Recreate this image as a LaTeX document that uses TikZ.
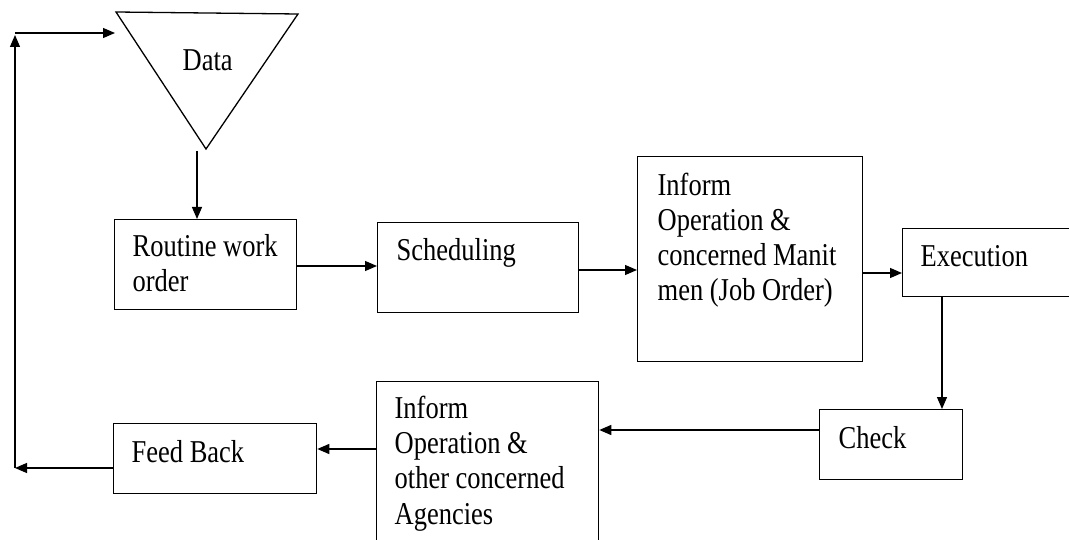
\documentclass[tikz,border=0pt]{standalone}
\usepackage{fontspec}
\setmainfont{Liberation Serif}[FakeStretch=0.833]
\usetikzlibrary{arrows.meta,calc}
\begin{document}
\begin{tikzpicture}[x=1pt,y=-1pt,
  line width=1.3pt,
  box/.style={draw, rectangle, inner sep=0pt, anchor=north west},
  txt/.style={anchor=base west, inner sep=0pt, align=left, font=\fontsize{31.8}{35.3}\selectfont},
  arr/.style={-{Triangle[length=12pt,width=10pt]}}]
\useasboundingbox (0,0) rectangle (1069,540);
\clip (0,0) rectangle (1069,540);
% Data triangle
\draw (116,12) coordinate (dtl) -- (298,14) coordinate (dtr) -- (206,149) coordinate (dap) -- cycle;
\node[txt] (datat) at (182,71) {Data};
\coordinate (dout) at (197,151);
% boxes (text nodes anchored at the baseline of their last line)
\node[box, minimum width=182pt, minimum height=90pt] (rw) at (114,219) {};
\node[txt] (rwt) at (132,292) {Routine work\\order};
\node[box, minimum width=201pt, minimum height=90pt] (sch) at (377,222) {};
\node[txt] (scht) at (396,261) {Scheduling};
\node[box, minimum width=225pt, minimum height=205pt] (inf1) at (637,156) {};
\node[txt] (inf1t) at (657,301) {Inform\\Operation \&\\concerned Manit\\men (Job Order)};
\node[box, minimum width=190pt, minimum height=68pt] (exe) at (902,228) {};
\node[txt] (exet) at (920,267) {Execution};
\node[box, minimum width=143pt, minimum height=70pt] (chk) at (819,409) {};
\node[txt] (chkt) at (838,448) {Check};
\node[box, minimum width=222pt, minimum height=180pt] (inf2) at (376,381) {};
\node[txt] (inf2t) at (394,524) {Inform\\Operation \&\\other concerned\\Agencies};
\node[box, minimum width=203pt, minimum height=70pt] (fb) at (113,423) {};
\node[txt] (fbt) at (131,462) {Feed Back};
% connectors
\draw[arr] (dout) -- (dout |- rw.north);
\draw[arr] (rw.east |- 0,266) -- (sch.west |- 0,266);
\draw[arr] (sch.east |- 0,270) -- (inf1.west |- 0,270);
\draw[arr] (inf1.east |- 0,273) -- (exe.west |- 0,273);
\draw[arr] (exe.south -| 942,0) -- (chk.north -| 942,0);
\draw[arr] (chk.west |- 0,430) -- (inf2.east |- 0,430);
\draw[arr] (inf2.west |- 0,449) -- (fb.east |- 0,449);
\coordinate (lb) at (15,468);
\coordinate (lt) at (15,33);
\coordinate (dl) at (115,33);
\draw[arr] (fb.west |- lb) -- (lb);
\draw[arr] (lb) -- ($(lt)+(0,2)$);
\draw[arr] (lt) -- (dl);
\end{tikzpicture}
\end{document}
